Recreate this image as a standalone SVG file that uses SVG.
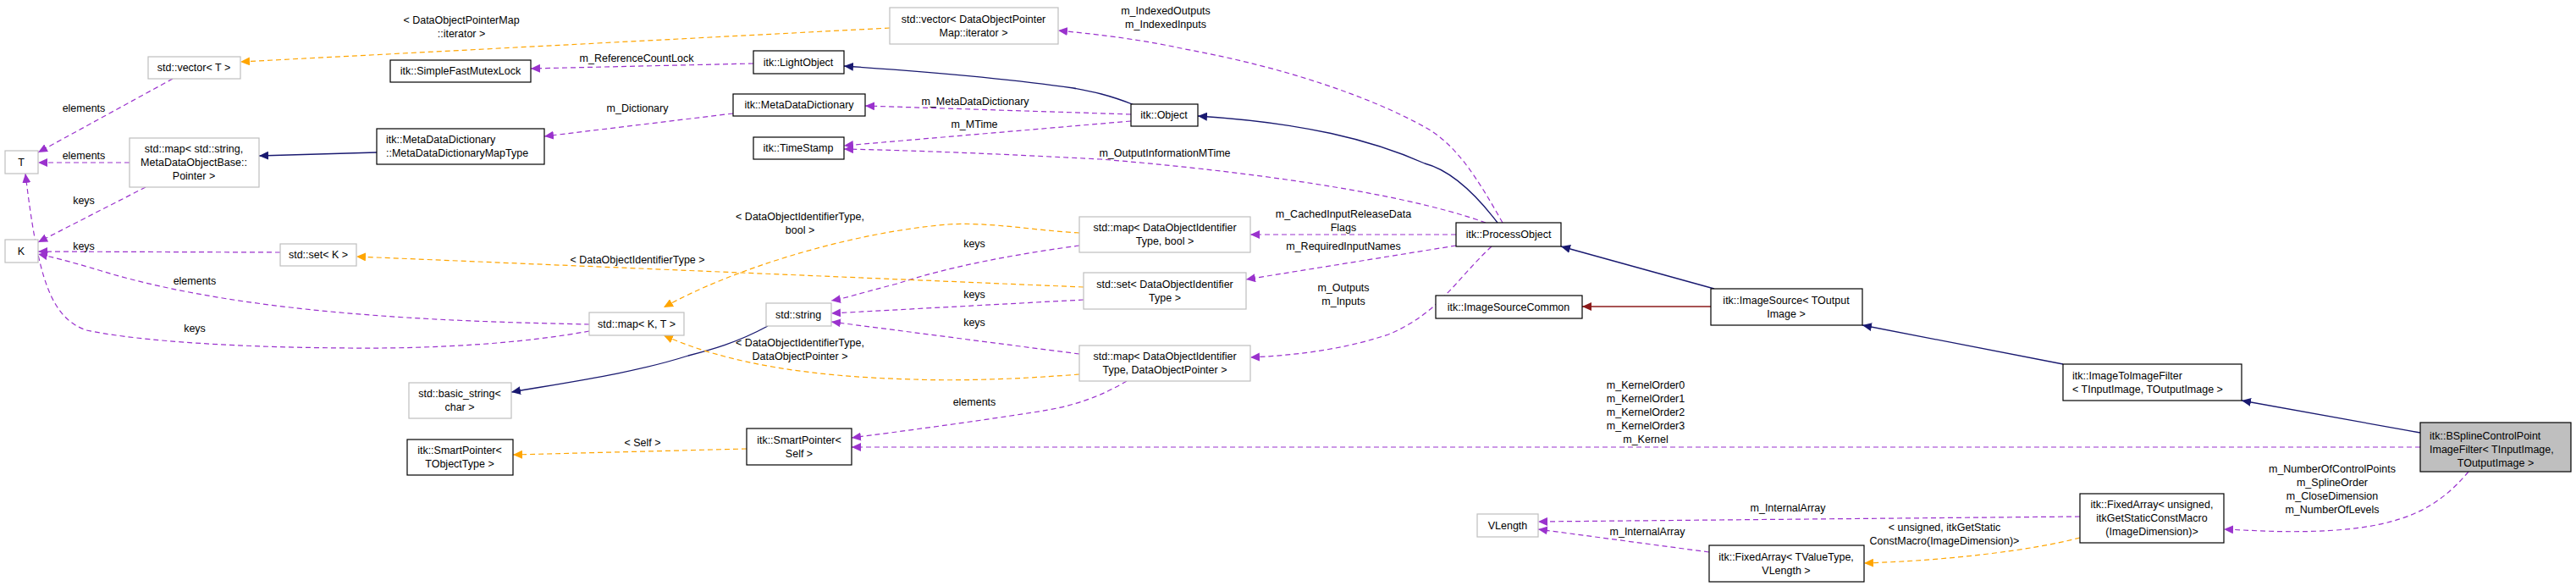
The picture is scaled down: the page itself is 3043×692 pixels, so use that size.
<svg xmlns="http://www.w3.org/2000/svg" width="3043" height="692" viewBox="0 0 3043 692">
<style>
text{font-family:"Liberation Sans",Arial,sans-serif;font-size:12.5px;fill:#000}
.n rect{fill:#fff;stroke:#000;stroke-width:1.2}
.g rect{fill:#fff;stroke:#bfbfbf;stroke-width:1.2}
.c text{text-anchor:middle}
.inh{fill:none;stroke:#191970;stroke-width:1.3}
.red{fill:none;stroke:#8b1a1a;stroke-width:1.3}
.use{fill:none;stroke:#9a32cd;stroke-width:1.2;stroke-dasharray:6,4}
.tpl{fill:none;stroke:#ffa500;stroke-width:1.2;stroke-dasharray:6,4}
.lbl text{text-anchor:middle}
</style>
<defs>
<marker id="mi" markerWidth="12" markerHeight="10" refX="11" refY="5" orient="auto" markerUnits="userSpaceOnUse"><path d="M0,0L11,5L0,10z" fill="#191970"/></marker>
<marker id="mr" markerWidth="12" markerHeight="10" refX="11" refY="5" orient="auto" markerUnits="userSpaceOnUse"><path d="M0,0L11,5L0,10z" fill="#8b1a1a"/></marker>
<marker id="mu" markerWidth="12" markerHeight="10" refX="11" refY="5" orient="auto" markerUnits="userSpaceOnUse"><path d="M0,0L11,5L0,10z" fill="#9a32cd"/></marker>
<marker id="mt" markerWidth="12" markerHeight="10" refX="11" refY="5" orient="auto" markerUnits="userSpaceOnUse"><path d="M0,0L11,5L0,10z" fill="#ffa500"/></marker>
</defs>

<g id="connectors">
<path class="inh" marker-end="url(#mi)" d="M2859,511L2648,473"/>
<path class="inh" marker-end="url(#mi)" d="M2437,430L2200,384"/>
<path class="inh" marker-end="url(#mi)" d="M2025,341L1844,291"/>
<path class="red" marker-end="url(#mr)" d="M2021,362L1869,362"/>
<path class="inh" marker-end="url(#mi)" d="M1769,263C1740,225 1710,200 1683,193C1620,165 1540,145 1415,137"/>
<path class="inh" marker-end="url(#mi)" d="M1340,124C1310,112 1290,108 1268,104C1200,94 1100,85 997,78"/>
<path class="inh" marker-end="url(#mi)" d="M445,180L306,184"/>
<path class="inh" marker-end="url(#mi)" d="M907,385C870,405 840,413 813,420C750,440 680,450 604,463"/>

<path class="use" marker-end="url(#mu)" d="M1775,263C1745,210 1720,170 1683,150C1620,115 1520,80 1400,58C1340,45 1290,40 1250,36"/>
<path class="use" marker-end="url(#mu)" d="M890,75L627,81"/>
<path class="use" marker-end="url(#mu)" d="M1336,135L1022,125"/>
<path class="use" marker-end="url(#mu)" d="M1336,143L997,172"/>
<path class="use" marker-end="url(#mu)" d="M1755,263C1650,225 1450,200 1300,188C1150,180 1050,177 997,176"/>
<path class="use" marker-end="url(#mu)" d="M1720,277L1477,277"/>
<path class="use" marker-end="url(#mu)" d="M1720,290L1472,330"/>
<path class="use" marker-end="url(#mu)" d="M1762,291C1720,330 1700,370 1640,395C1580,415 1520,420 1477,422"/>
<path class="use" marker-end="url(#mu)" d="M866,134L643,161"/>
<path class="use" marker-end="url(#mu)" d="M1275,290C1200,300 1120,315 1060,335C1020,345 1000,352 982,355"/>
<path class="use" marker-end="url(#mu)" d="M1280,354L982,370"/>
<path class="use" marker-end="url(#mu)" d="M1275,418L982,380"/>
<path class="use" marker-end="url(#mu)" d="M1331,450C1300,468 1270,480 1220,487C1150,498 1060,510 1006,517"/>
<path class="use" marker-end="url(#mu)" d="M2859,528L1006,528"/>
<path class="use" marker-end="url(#mu)" d="M2916,557C2880,600 2840,620 2760,626C2700,630 2660,626 2627,625"/>
<path class="use" marker-end="url(#mu)" d="M2457,610L1817,616"/>
<path class="use" marker-end="url(#mu)" d="M2019,652L1817,625"/>
<path class="use" marker-end="url(#mu)" d="M204,93L45,180"/>
<path class="use" marker-end="url(#mu)" d="M153,192L45,192"/>
<path class="use" marker-end="url(#mu)" d="M172,221L45,286"/>
<path class="use" marker-end="url(#mu)" d="M331,298L45,297"/>
<path class="use" marker-end="url(#mu)" d="M696,383C560,380 300,375 120,320C80,308 60,303 45,300"/>
<path class="use" marker-end="url(#mu)" d="M696,391C620,405 520,412 412,411C250,410 150,400 102,390C60,375 45,330 30,205"/>

<path class="tpl" marker-end="url(#mt)" d="M1051,33L284,73"/>
<path class="tpl" marker-end="url(#mt)" d="M1275,275C1220,272 1170,262 1120,265C1000,275 860,320 784,363"/>
<path class="tpl" marker-end="url(#mt)" d="M1280,339L421,303"/>
<path class="tpl" marker-end="url(#mt)" d="M1275,442C1200,448 1130,450 1079,448C960,445 860,430 784,396"/>
<path class="tpl" marker-end="url(#mt)" d="M882,530L606,537"/>
<path class="tpl" marker-end="url(#mt)" d="M2457,635C2400,650 2300,662 2202,665"/>
</g>

<g class="lbl">
<text x="545" y="28">&lt; DataObjectPointerMap</text>
<text x="545" y="44">::iterator &gt;</text>
<text x="1377" y="17">m_IndexedOutputs</text>
<text x="1377" y="33">m_IndexedInputs</text>
<text x="752" y="73">m_ReferenceCountLock</text>
<text x="753" y="132">m_Dictionary</text>
<text x="1152" y="124">m_MetaDataDictionary</text>
<text x="1151" y="151">m_MTime</text>
<text x="1376" y="185">m_OutputInformationMTime</text>
<text x="1587" y="257">m_CachedInputReleaseData</text>
<text x="1587" y="273">Flags</text>
<text x="1587" y="295">m_RequiredInputNames</text>
<text x="1587" y="344">m_Outputs</text>
<text x="1587" y="360">m_Inputs</text>
<text x="945" y="260">&lt; DataObjectIdentifierType,</text>
<text x="945" y="276">bool &gt;</text>
<text x="1151" y="292">keys</text>
<text x="753" y="311">&lt; DataObjectIdentifierType &gt;</text>
<text x="1151" y="352">keys</text>
<text x="1151" y="385">keys</text>
<text x="945" y="409">&lt; DataObjectIdentifierType,</text>
<text x="945" y="425">DataObjectPointer &gt;</text>
<text x="1151" y="479">elements</text>
<text x="759" y="527">&lt; Self &gt;</text>
<text x="1944" y="459">m_KernelOrder0</text>
<text x="1944" y="475">m_KernelOrder1</text>
<text x="1944" y="491">m_KernelOrder2</text>
<text x="1944" y="507">m_KernelOrder3</text>
<text x="1944" y="523">m_Kernel</text>
<text x="2755" y="558">m_NumberOfControlPoints</text>
<text x="2755" y="574">m_SplineOrder</text>
<text x="2755" y="590">m_CloseDimension</text>
<text x="2755" y="606">m_NumberOfLevels</text>
<text x="2112" y="604">m_InternalArray</text>
<text x="1946" y="632">m_InternalArray</text>
<text x="2297" y="627">&lt; unsigned, itkGetStatic</text>
<text x="2297" y="643">ConstMacro(ImageDimension)&gt;</text>
<text x="99" y="132">elements</text>
<text x="99" y="188">elements</text>
<text x="99" y="241">keys</text>
<text x="99" y="295">keys</text>
<text x="230" y="336">elements</text>
<text x="230" y="392">keys</text>
</g>

<g id="n_bspline" class="c"><rect x="2859" y="499" width="178" height="58" fill="#bfbfbf" style="fill:#bfbfbf;stroke:#000;stroke-width:1.2"/><text x="2870" y="519" style="text-anchor:start">itk::BSplineControlPoint</text><text x="2870" y="535" style="text-anchor:start">ImageFilter&lt; TInputImage,</text><text x="2948" y="551">TOutputImage &gt;</text></g>
<g id="n_i2i" class="n"><rect x="2437" y="430" width="211" height="43"/><text x="2448" y="448">itk::ImageToImageFilter</text><text x="2448" y="464">&lt; TInputImage, TOutputImage &gt;</text></g>
<g id="n_imgsrc" class="n c"><rect x="2021" y="341" width="179" height="43"/><text x="2110" y="359">itk::ImageSource&lt; TOutput</text><text x="2110" y="375">Image &gt;</text></g>
<g id="n_isc" class="n c"><rect x="1696" y="349" width="173" height="27"/><text x="1782" y="367">itk::ImageSourceCommon</text></g>
<g id="n_po" class="n c"><rect x="1720" y="263" width="124" height="28"/><text x="1782" y="281">itk::ProcessObject</text></g>
<g id="n_obj" class="n c"><rect x="1336" y="123" width="79" height="26"/><text x="1375" y="140">itk::Object</text></g>
<g id="n_lo" class="n c"><rect x="890" y="60" width="107" height="27"/><text x="943" y="78">itk::LightObject</text></g>
<g id="n_mdd" class="n c"><rect x="866" y="111" width="156" height="26"/><text x="944" y="128">itk::MetaDataDictionary</text></g>
<g id="n_ts" class="n c"><rect x="890" y="162" width="107" height="26"/><text x="943" y="179">itk::TimeStamp</text></g>
<g id="n_sfml" class="n c"><rect x="461" y="71" width="166" height="26"/><text x="544" y="88">itk::SimpleFastMutexLock</text></g>
<g id="n_mddmt" class="n"><rect x="445" y="152" width="198" height="42"/><text x="456" y="169">itk::MetaDataDictionary</text><text x="456" y="185">::MetaDataDictionaryMapType</text></g>
<g id="n_vecit" class="g c"><rect x="1051" y="9" width="199" height="43"/><text x="1150" y="27">std::vector&lt; DataObjectPointer</text><text x="1150" y="43">Map::iterator &gt;</text></g>
<g id="n_vecT" class="g c"><rect x="175" y="67" width="109" height="26"/><text x="229" y="84">std::vector&lt; T &gt;</text></g>
<g id="n_T" class="g c"><rect x="6" y="178" width="39" height="27"/><text x="25" y="196">T</text></g>
<g id="n_K" class="g c"><rect x="6" y="283" width="39" height="27"/><text x="25" y="301">K</text></g>
<g id="n_mapstr" class="g c"><rect x="153" y="163" width="153" height="58"/><text x="229" y="180">std::map&lt; std::string,</text><text x="229" y="196">MetaDataObjectBase::</text><text x="229" y="212">Pointer &gt;</text></g>
<g id="n_setK" class="g c"><rect x="331" y="288" width="90" height="26"/><text x="376" y="305">std::set&lt; K &gt;</text></g>
<g id="n_mapKT" class="g c"><rect x="696" y="369" width="112" height="27"/><text x="752" y="387">std::map&lt; K, T &gt;</text></g>
<g id="n_str" class="g c"><rect x="905" y="358" width="77" height="27"/><text x="943" y="376">std::string</text></g>
<g id="n_bstr" class="g c"><rect x="483" y="452" width="121" height="42"/><text x="543" y="469">std::basic_string&lt;</text><text x="543" y="485">char &gt;</text></g>
<g id="n_spT" class="n c"><rect x="481" y="519" width="125" height="42"/><text x="543" y="536">itk::SmartPointer&lt;</text><text x="543" y="552">TObjectType &gt;</text></g>
<g id="n_spS" class="n c"><rect x="882" y="506" width="124" height="43"/><text x="944" y="524">itk::SmartPointer&lt;</text><text x="944" y="540">Self &gt;</text></g>
<g id="n_mapbool" class="g c"><rect x="1275" y="256" width="202" height="42"/><text x="1376" y="273">std::map&lt; DataObjectIdentifier</text><text x="1376" y="289">Type, bool &gt;</text></g>
<g id="n_set" class="g c"><rect x="1280" y="322" width="192" height="43"/><text x="1376" y="340">std::set&lt; DataObjectIdentifier</text><text x="1376" y="356">Type &gt;</text></g>
<g id="n_mapptr" class="g c"><rect x="1275" y="408" width="202" height="42"/><text x="1376" y="425">std::map&lt; DataObjectIdentifier</text><text x="1376" y="441">Type, DataObjectPointer &gt;</text></g>
<g id="n_fau" class="n c"><rect x="2457" y="583" width="170" height="58"/><text x="2542" y="600">itk::FixedArray&lt; unsigned,</text><text x="2542" y="616">itkGetStaticConstMacro</text><text x="2542" y="632">(ImageDimension)&gt;</text></g>
<g id="n_fav" class="n c"><rect x="2019" y="644" width="183" height="43"/><text x="2110" y="662">itk::FixedArray&lt; TValueType,</text><text x="2110" y="678">VLength &gt;</text></g>
<g id="n_vl" class="g c"><rect x="1745" y="607" width="72" height="27"/><text x="1781" y="625">VLength</text></g>
</svg>
